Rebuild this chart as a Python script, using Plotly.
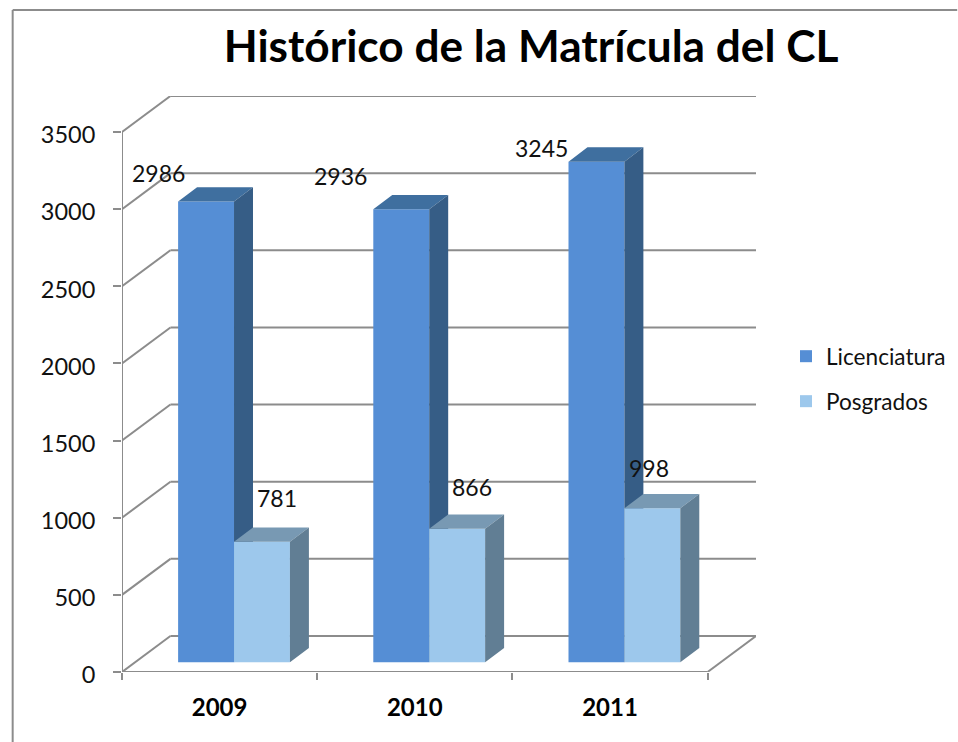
import plotly.graph_objects as go

# ---- data ----
years = ["2009", "2010", "2011"]
licenciatura = [2986, 2936, 3245]
posgrados = [781, 866, 998]
y_ticks = [0, 500, 1000, 1500, 2000, 2500, 3000, 3500]
title_text = "Histórico de la Matrícula del CL"

# ---- geometry of the 3D look (pixels) ----
W, H = 958, 742
X0_PX, X3_PX = 121.5, 708.0       # front x axis
Y0_PX, Y3500_PX = 672.0, 132.0    # front y axis
WALL_DX, WALL_DY = 48.5, 36.0     # depth of the chart box
BAR_OFF_DX, BAR_OFF_DY = 13.0, 9.7
BAR_DX, BAR_DY = 19.0, 14.3
BAR_W_PX = 56.0
BAR_LEFT_PX = 56.2                # from the start of a category to the first bar

px_x = (X3_PX - X0_PX) / 3
px_y = (Y0_PX - Y3500_PX) / 3500
ux = lambda p: p / px_x
uy = lambda p: p / px_y

x_max = 3 + ux(WALL_DX)
y_max = 3500 + uy(WALL_DY)
plot_w = X3_PX + WALL_DX - X0_PX
plot_h = Y0_PX - (Y3500_PX - WALL_DY)

GRID = "#8c8c8c"
LINE_W = 2
FONT = "Lato"
TEXT = "#111111"

LIC_FRONT, LIC_TOP, LIC_SIDE = "#558ed5", "#3f6f9f", "#365d86"
POS_FRONT, POS_TOP, POS_SIDE = "#9dc8ec", "#7899b3", "#617e94"

fig = go.Figure()


def faces(values, first_left):
    """Top and side polygons for a series, from its values."""
    tx, ty, sx, sy = [], [], [], []
    base = uy(BAR_OFF_DY)
    w, dx, dy = ux(BAR_W_PX), ux(BAR_DX), uy(BAR_DY)
    for i, v in enumerate(values):
        l = i + first_left
        r = l + w
        t = base + v
        tx += [l, r, r + dx, l + dx, l, None]
        ty += [t, t, t + dy, t + dy, t, None]
        sx += [r, r + dx, r + dx, r, r, None]
        sy += [base, base + dy, t + dy, t, base, None]
    return tx, ty, sx, sy


def add_series(name, values, first_left, front, top, side, xa, ya):
    w = ux(BAR_W_PX)
    fig.add_trace(go.Bar(
        x=[i + first_left + w / 2 for i in range(len(values))],
        y=values, base=uy(BAR_OFF_DY), width=w, name=name,
        marker=dict(color=front, line=dict(width=0)),
        xaxis=xa, yaxis=ya, legendgroup=name, hoverinfo="y",
    ))
    tx, ty, sx, sy = faces(values, first_left)
    for fx, fy, c in ((tx, ty, top), (sx, sy, side)):
        fig.add_trace(go.Scatter(
            x=fx, y=fy, mode="lines", fill="toself", fillcolor=c,
            line=dict(width=0, color=c), showlegend=False, hoverinfo="skip",
            xaxis=xa, yaxis=ya,
        ))


first_lic = ux(BAR_LEFT_PX)
first_pos = first_lic + ux(BAR_W_PX)
add_series("Licenciatura", licenciatura, first_lic, LIC_FRONT, LIC_TOP, LIC_SIDE, "x", "y")
add_series("Posgrados", posgrados, first_pos, POS_FRONT, POS_TOP, POS_SIDE, "x2", "y2")

# ---- chart box: wall lines, floor, axis lines ----
shapes = []


def seg(x0, y0, x1, y1):
    shapes.append(dict(type="line", xref="x", yref="y", x0=x0, y0=y0, x1=x1, y1=y1,
                       line=dict(color=GRID, width=LINE_W), layer="below"))


back_x, back_dy = ux(WALL_DX), uy(WALL_DY)
for t in y_ticks:
    seg(0, t, back_x, t + back_dy)
    seg(back_x, t + back_dy, x_max, t + back_dy)
seg(0, 0, 0, 3500)
seg(0, 0, 3, 0)
seg(3, 0, x_max, back_dy)


def paper_x(p):
    return (p - X0_PX) / plot_w


def paper_y(p):
    return (Y0_PX - p) / plot_h


# outer frame of the chart area
for x0, y0, x1, y1 in ((12, 10, 12, H), (12, 10, W, 10)):
    shapes.append(dict(type="line", xref="paper", yref="paper",
                       x0=paper_x(x0), y0=paper_y(y0), x1=paper_x(x1), y1=paper_y(y1),
                       line=dict(color=GRID, width=LINE_W), layer="below"))

# ---- data labels ----
lic_shift = [(-20, 29), (-33, 33), (-27, 14)]
pos_shift = [(43, 44), (43, 42), (25, 40)]
annotations = []
for values, first, shifts in ((licenciatura, first_lic, lic_shift), (posgrados, first_pos, pos_shift)):
    for i, v in enumerate(values):
        annotations.append(dict(
            x=i + first, y=uy(BAR_OFF_DY) + v, xref="x", yref="y", text=str(v),
            showarrow=False, xanchor="center", yanchor="middle",
            xshift=shifts[i][0], yshift=shifts[i][1],
            font=dict(family=FONT, size=23, color=TEXT),
        ))

fig.update_layout(
    width=W, height=H, autosize=False,
    margin=dict(l=X0_PX, r=W - X3_PX - WALL_DX, t=Y3500_PX - WALL_DY, b=H - Y0_PX, pad=0),
    paper_bgcolor="white", plot_bgcolor="rgba(0,0,0,0)",
    barmode="overlay",
    title=dict(text=title_text, x=531 / W, xanchor="center", xref="container",
               y=1 - 47 / H, yanchor="middle", yref="container",
               font=dict(family=FONT, size=44.2, color="#000000", weight="bold")),
    font=dict(family=FONT, color=TEXT),
    xaxis=dict(range=[0, x_max], tickmode="array", tickvals=[0.5, 1.5, 2.5], ticktext=years,
               ticks="", showgrid=False, zeroline=False, showline=False,
               ticklabelstandoff=19,
               tickfont=dict(family=FONT, size=24, color="#000000", weight="bold"),
               minor=dict(tickmode="array", tickvals=[0, 1, 2, 3], ticks="outside",
                          ticklen=7, tickwidth=LINE_W, tickcolor=GRID, showgrid=False)),
    yaxis=dict(range=[0, y_max], tickmode="array", tickvals=y_ticks,
               ticks="outside", ticklen=8, tickwidth=LINE_W, tickcolor=GRID,
               showgrid=False, zeroline=False, showline=False, ticklabelstandoff=13,
               ticklabelshift=3,
               tickfont=dict(family=FONT, size=23.5, color=TEXT)),
    xaxis2=dict(range=[0, x_max], overlaying="x", visible=False),
    yaxis2=dict(range=[0, y_max], overlaying="y", visible=False),
    legend=dict(x=786 / W, y=1 - 335 / H, xref="container", yref="container",
                xanchor="left", yanchor="top",
                font=dict(family=FONT, size=22.6, color=TEXT),
                traceorder="grouped", tracegroupgap=12.6, bgcolor="rgba(0,0,0,0)"),
    shapes=shapes, annotations=annotations,
)

fig.write_html("out.html", post_script="document.body.style.margin='0';",
               config={"displayModeBar": False})
